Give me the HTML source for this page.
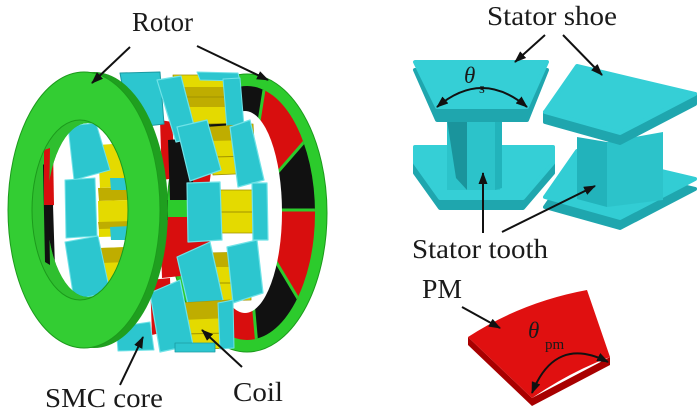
<!DOCTYPE html>
<html><head><meta charset="utf-8"><style>
html,body{margin:0;padding:0;background:#fff;width:700px;height:415px;overflow:hidden;}
svg{display:block;}
text{font-family:"Liberation Serif",serif;fill:#1a1a1a;}
</style></head><body>
<svg width="700" height="415" viewBox="0 0 700 415" xmlns="http://www.w3.org/2000/svg" overflow="hidden">
<defs>
<marker id="ah" markerWidth="12" markerHeight="9" refX="11" refY="4.5" orient="auto-start-reverse" markerUnits="userSpaceOnUse">
<path d="M0,0 L12,4.5 L0,9 Z" fill="#111"/>
</marker>
<clipPath id="magclip"><ellipse cx="247" cy="213" rx="68" ry="127"/></clipPath>
</defs>
<rect width="700" height="415" fill="#fff"/>

<!-- ===== BACK ROTOR RING ===== -->
<ellipse cx="247" cy="213" rx="80" ry="139" fill="#2ccb2c" stroke="#1c9a1c" stroke-width="1"/>
<g clip-path="url(#magclip)">
 <polygon points="245,210 185,62 270,52" fill="#111"/>
 <polygon points="245,210 270,52 350,89" fill="#d80e0e"/>
 <polygon points="245,210 350,89 405,210" fill="#111"/>
 <polygon points="245,210 405,210 327,347" fill="#d80e0e"/>
 <polygon points="245,210 327,347 259,369" fill="#111"/>
 <polygon points="245,210 259,369 206,365" fill="#d80e0e"/>
 <polygon points="245,210 206,365 153,341" fill="#111"/>
 <polygon points="245,210 153,341 106,290" fill="#d80e0e"/>
 <polygon points="245,210 106,290 100,142" fill="#111"/>
 <polygon points="245,210 100,142 153,79" fill="#d80e0e"/>
 <polygon points="245,210 153,79 185,62" fill="#111"/>
 <g stroke="#2ccb2c" stroke-width="3">
  <line x1="245" y1="210" x2="270" y2="52"/>
  <line x1="245" y1="210" x2="350" y2="89"/>
  <line x1="245" y1="210" x2="405" y2="210"/>
  <line x1="245" y1="210" x2="327" y2="347"/>
  <line x1="245" y1="210" x2="259" y2="369"/>
  <line x1="245" y1="210" x2="206" y2="365"/>
 </g>
</g>
<ellipse cx="245" cy="212" rx="37" ry="101" fill="#fff"/>

<!-- bits between front ring and stator -->
<polygon points="160,120 172,122 176,178 162,180" fill="#d80e0e"/>
<polygon points="168,140 191,138 194,200 170,200" fill="#111"/>
<polygon points="160,200 192,200 192,217 160,217" fill="#2ccb2c"/>
<polygon points="160,217 192,217 190,275 162,278" fill="#d80e0e"/>
<polygon points="150,200 168,200 168,220 150,222" fill="#111"/>
<polygon points="150,280 170,278 172,330 152,335" fill="#d80e0e"/>

<!-- ===== STATOR ===== -->
<g stroke-linejoin="round">
 <!-- top group -->
 <polygon points="173,75 233,75 236,123 178,125" fill="#e4da00" stroke="#9d9000" stroke-width="0.8"/>
 <polygon points="175,87 234,87 235,107 177,107" fill="#bfad00"/>
 <line x1="176" y1="97" x2="235" y2="97" stroke="#a09200" stroke-width="1"/>
 <polygon points="197,72 238,73 240,81 200,80" fill="#2cc6cf" stroke="#6fe2e7" stroke-width="1"/>
 <polygon points="223,79 240,78 244,126 227,128" fill="#2cc6cf" stroke="#6fe2e7" stroke-width="1"/>
 <polygon points="120,73 160,72 164,124 130,128" fill="#2cc6cf" stroke="#1b9aa2" stroke-width="1"/>
 <polygon points="157,80 181,76 197,137 176,142" fill="#2cc6cf" stroke="#6fe2e7" stroke-width="1.2"/>
 <!-- upper mid group -->
 <polygon points="210,127 253,124 256,173 213,175" fill="#e4da00" stroke="#9d9000" stroke-width="0.8"/>
 <polygon points="210,127 253,124 254,140 211,141" fill="#bfad00"/>
 <line x1="212" y1="157" x2="255" y2="156" stroke="#a09200" stroke-width="1"/>
 <polygon points="177,127 207,120 221,170 190,181" fill="#2cc6cf" stroke="#6fe2e7" stroke-width="1.2"/>
 <polygon points="230,127 250,120 264,180 238,187" fill="#2cc6cf" stroke="#6fe2e7" stroke-width="1.2"/>
 <!-- middle group -->
 <polygon points="220,190 258,190 259,233 221,233" fill="#e4da00" stroke="#9d9000" stroke-width="0.8"/>
 <line x1="220" y1="212" x2="259" y2="212" stroke="#a09200" stroke-width="1"/>
 <polygon points="187,183 220,182 222,240 188,242" fill="#2cc6cf" stroke="#6fe2e7" stroke-width="1.2"/>
 <polygon points="252,183 267,183 268,240 253,240" fill="#2cc6cf" stroke="#6fe2e7" stroke-width="1.2"/>
 <!-- lower mid group -->
 <polygon points="207,253 250,252 251,300 209,301" fill="#e4da00" stroke="#9d9000" stroke-width="0.8"/>
 <polygon points="207,253 250,252 250,267 208,267" fill="#bfad00"/>
 <line x1="208" y1="283" x2="251" y2="283" stroke="#a09200" stroke-width="1"/>
 <polygon points="177,257 210,242 223,300 190,313" fill="#2cc6cf" stroke="#6fe2e7" stroke-width="1.2"/>
 <polygon points="227,247 257,240 263,293 233,303" fill="#2cc6cf" stroke="#6fe2e7" stroke-width="1.2"/>
 <!-- bottom group -->
 <polygon points="180,303 230,300 232,348 182,350" fill="#e4da00" stroke="#9d9000" stroke-width="0.8"/>
 <polygon points="180,303 230,300 230,318 181,320" fill="#bfad00"/>
 <line x1="182" y1="334" x2="231" y2="333" stroke="#a09200" stroke-width="1"/>
 <polygon points="150,293 180,280 193,345 160,352" fill="#2cc6cf" stroke="#6fe2e7" stroke-width="1.2"/>
 <polygon points="218,303 233,300 234,348 220,349" fill="#2cc6cf" stroke="#6fe2e7" stroke-width="1"/>
 <polygon points="175,343 215,343 215,352 175,352" fill="#2cc6cf" stroke="#1b9aa2" stroke-width="0.8"/>
 <polygon points="116,327 150,322 154,350 118,351" fill="#2cc6cf" stroke="#6fe2e7" stroke-width="1"/>
 <!-- inside front hole -->
 <polygon points="47,150 53,148 54,205 48,207" fill="#d80e0e"/>
 <polygon points="46,205 53,205 55,268 48,270" fill="#111"/>
 <polygon points="98,145 128,143 130,186 100,188" fill="#e4da00"/>
 <polygon points="98,188 128,187 129,200 99,201" fill="#bfad00"/>
 <polygon points="98,201 129,200 130,236 99,237" fill="#e4da00"/>
 <polygon points="98,222 130,221 130,228 99,229" fill="#bfad00"/>
 <polygon points="100,248 128,247 128,287 102,289" fill="#e4da00"/>
 <polygon points="100,248 128,247 128,262 101,263" fill="#bfad00"/>
 <polygon points="68,126 96,123 110,170 74,180" fill="#2cc6cf" stroke="#6fe2e7" stroke-width="1"/>
 <polygon points="65,180 95,178 97,236 66,238" fill="#2cc6cf" stroke="#6fe2e7" stroke-width="1"/>
 <polygon points="110,178 130,178 130,190 111,190" fill="#2cc6cf"/>
 <polygon points="110,227 130,226 130,240 111,240" fill="#2cc6cf"/>
 <polygon points="65,242 98,236 110,292 74,300" fill="#2cc6cf" stroke="#6fe2e7" stroke-width="1"/>
</g>

<!-- ===== FRONT ROTOR RING ===== -->
<path fill-rule="evenodd" fill="#1f9f1f" d="M168,210 A74,138 0 1,1 20,210 A74,138 0 1,1 168,210 Z M129,210 A41,87 0 1,0 47,210 A41,87 0 1,0 129,210 Z"/>
<path fill-rule="evenodd" fill="#2fbf2f" d="M128,210 A48,90 0 1,0 32,210 A48,90 0 1,0 128,210 Z M129,210 A41,87 0 1,0 47,210 A41,87 0 1,0 129,210 Z"/>
<polygon points="43,165 48,160 50,265 45,262" fill="#111"/>
<polygon points="44,150 50,148 49,205 44,205" fill="#d80e0e"/>
<path fill-rule="evenodd" fill="#33cd33" stroke="#1c9a1c" stroke-width="1" d="M160,210 A76,138 0 1,1 8,210 A76,138 0 1,1 160,210 Z M128,210 A48,90 0 1,0 32,210 A48,90 0 1,0 128,210 Z"/>

<!-- ===== STATOR SHOE PIECES (right) ===== -->
<g stroke-linejoin="round">
 <!-- right piece -->
 <polygon points="545,207 577,161 695,189 620,228" fill="#1fa6ae" stroke="#1fa6ae" stroke-width="4"/>
 <polygon points="545,197 577,151 695,179 620,218" fill="#32cdd4" stroke="#32cdd4" stroke-width="4"/>
 <polygon points="577,137 607,142 607,207 577,199" fill="#22b3bb"/>
 <polygon points="607,142 663,132 663,200 607,207" fill="#2cc3ca"/>
 <polygon points="545,122 620,143 695,104 695,94 620,133 545,112" fill="#1fa6ae" stroke="#1fa6ae" stroke-width="4"/>
 <polygon points="545,112 577,66 695,94 620,133" fill="#35cfd6" stroke="#35cfd6" stroke-width="4"/>
 <!-- left piece -->
 <polygon points="415,157 553,157 553,173 523,208 440,208 415,173" fill="#1fa6ae" stroke="#1fa6ae" stroke-width="4"/>
 <polygon points="415,147 553,147 553,163 523,198 440,198 415,163" fill="#35cfd6" stroke="#35cfd6" stroke-width="4"/>
 <polygon points="447,120 500,120 500,190 447,190" fill="#2cc3ca"/>
 <polygon points="447,120 467,120 467,190 456,178" fill="#1a949c"/>
 <polygon points="495,120 502,120 502,188 495,190" fill="#22b3bb"/>
 <polygon points="415,70 547,70 527,120 437,120" fill="#1fa6ae" stroke="#1fa6ae" stroke-width="4"/>
 <polygon points="415,62 547,62 527,107 437,107" fill="#35cfd6" stroke="#35cfd6" stroke-width="4"/>
</g>
<path d="M437,107 Q482,69 527,107" fill="none" stroke="#111" stroke-width="2" marker-start="url(#ah)" marker-end="url(#ah)"/>
<text x="464" y="83" font-size="23" font-style="italic">θ</text>
<text x="479" y="93" font-size="15">s</text>

<!-- ===== PM ===== -->
<polygon points="468,337 468,345 532,406 610,365 610,357 532,398" fill="#a80000"/>
<path d="M468,337 Q522,302 587,290 L610,357 Q570,372 532,398 Z" fill="#e01010"/>
<path d="M532,393 Q555,335 608,362" fill="none" stroke="#111" stroke-width="2" marker-start="url(#ah)" marker-end="url(#ah)"/>
<text x="528" y="338" font-size="23" font-style="italic">θ</text>
<text x="545" y="349" font-size="15">pm</text>

<!-- ===== ARROWS ===== -->
<g stroke="#111" stroke-width="2" fill="none">
 <line x1="130" y1="47" x2="92" y2="83" marker-end="url(#ah)"/>
 <line x1="197" y1="46" x2="268" y2="80" marker-end="url(#ah)"/>
 <line x1="545" y1="35" x2="515" y2="62" marker-end="url(#ah)"/>
 <line x1="563" y1="35" x2="602" y2="75" marker-end="url(#ah)"/>
 <line x1="483" y1="233" x2="483" y2="173" marker-end="url(#ah)"/>
 <line x1="502" y1="232" x2="595" y2="186" marker-end="url(#ah)"/>
 <line x1="462" y1="307" x2="500" y2="328" marker-end="url(#ah)"/>
 <line x1="120" y1="385" x2="143" y2="337" marker-end="url(#ah)"/>
 <line x1="242" y1="367" x2="202" y2="330" marker-end="url(#ah)"/>
</g>

<!-- ===== LABELS ===== -->
<text x="132" y="31" font-size="27" textLength="61" lengthAdjust="spacingAndGlyphs">Rotor</text>
<text x="487" y="25" font-size="27" textLength="130" lengthAdjust="spacingAndGlyphs">Stator shoe</text>
<text x="412" y="258" font-size="27" textLength="136" lengthAdjust="spacingAndGlyphs">Stator tooth</text>
<text x="422" y="298" font-size="27" textLength="40" lengthAdjust="spacingAndGlyphs">PM</text>
<text x="45" y="407" font-size="27" textLength="118" lengthAdjust="spacingAndGlyphs">SMC core</text>
<text x="233" y="401" font-size="27" textLength="50" lengthAdjust="spacingAndGlyphs">Coil</text>
</svg>
</body></html>
